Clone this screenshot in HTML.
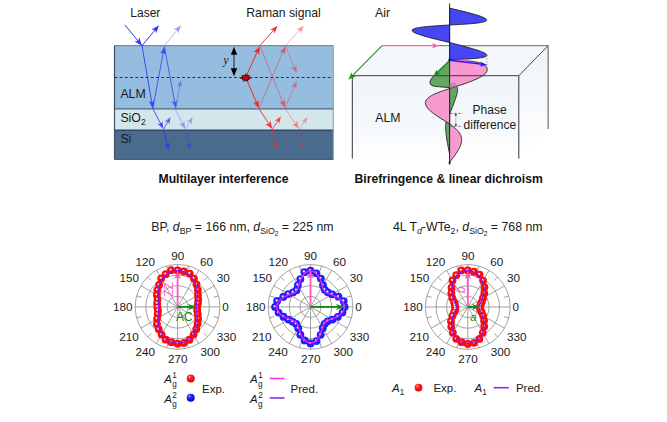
<!DOCTYPE html><html><head><meta charset="utf-8"><style>html,body{margin:0;padding:0;background:#fff;width:667px;height:422px;overflow:hidden}svg{display:block;font-family:"Liberation Sans", sans-serif}</style></head><body>
<svg width="667" height="422" viewBox="0 0 667 422">
<rect width="667" height="422" fill="#fff"/>
<rect x="114.5" y="45.7" width="218.8" height="63.2" fill="#95bddf"/>
<rect x="114.5" y="108.9" width="218.8" height="21.299999999999983" fill="#d3e6eb"/>
<rect x="114.5" y="130.2" width="218.8" height="29.200000000000017" fill="#4b6b8e"/>
<line x1="114.5" y1="45.7" x2="333.3" y2="45.7" stroke="#7d8890" stroke-width="1.2"/>
<line x1="114.5" y1="108.9" x2="333.3" y2="108.9" stroke="#4a6680" stroke-width="1.4"/>
<line x1="114.5" y1="130.2" x2="333.3" y2="130.2" stroke="#2f4a66" stroke-width="1.5"/>
<line x1="114.5" y1="45.7" x2="114.5" y2="159.4" stroke="#3f5060" stroke-width="1.2"/>
<line x1="333.3" y1="45.7" x2="333.3" y2="159.4" stroke="#8a9aa8" stroke-width="1"/>
<line x1="114.5" y1="159.4" x2="333.3" y2="159.4" stroke="#3a5470" stroke-width="1"/>
<line x1="114.5" y1="77.5" x2="333.3" y2="77.5" stroke="#262626" stroke-width="0.95" stroke-dasharray="2.8,2.4"/>
<text x="130.3" y="16.8" font-size="12" font-weight="400" text-anchor="start" fill="#1a1a1a" font-style="normal" >Laser</text>
<text x="246.3" y="17.1" font-size="12.2" font-weight="400" text-anchor="start" fill="#1a1a1a" font-style="normal" >Raman signal</text>
<text x="120.4" y="97.6" font-size="12.3" font-weight="400" text-anchor="start" fill="#1a1a1a" font-style="normal" >ALM</text>
<text x="120.4" y="121.7" font-size="12.3" font-weight="400" text-anchor="start" fill="#1a1a1a" font-style="normal" >SiO<tspan font-size="8.5" dy="3">2</tspan></text>
<text x="120.4" y="143.2" font-size="12.3" font-weight="400" text-anchor="start" fill="#1a1a1a" font-style="normal" >Si</text>
<text x="158.5" y="183.0" font-size="12.2" font-weight="700" text-anchor="start" fill="#111" font-style="normal" >Multilayer interference</text>
<line x1="124.9" y1="24.9" x2="142" y2="45.7" stroke="#2b35f5" stroke-width="1"/><path d="M142.00,45.70 L134.60,41.43 L138.19,41.07 L139.24,37.62Z" fill="#2b35f5" fill-opacity="1.0"/>
<line x1="142.00" y1="45.70" x2="155.93" y2="28.99" stroke="#2b35f5" stroke-width="1" stroke-opacity="1.0"/><path d="M159.00,25.30 L156.18,33.37 L155.16,29.91 L151.57,29.53Z" fill="#2b35f5" fill-opacity="1.0"/>
<line x1="164.40" y1="45.70" x2="177.97" y2="29.02" stroke="#2b35f5" stroke-width="0.8" stroke-opacity="0.45"/><path d="M181.00,25.30 L178.28,33.40 L177.21,29.95 L173.62,29.61Z" fill="#2b35f5" fill-opacity="0.45"/>
<line x1="142.00" y1="45.70" x2="151.99" y2="103.67" stroke="#2b35f5" stroke-width="1" stroke-opacity="0.85"/><path d="M152.80,108.40 L148.68,100.99 L151.78,102.49 L154.20,100.04Z" fill="#2b35f5" fill-opacity="0.85"/>
<line x1="152.80" y1="108.40" x2="163.52" y2="51.22" stroke="#2b35f5" stroke-width="1" stroke-opacity="0.75"/><path d="M164.40,46.50 L165.68,54.88 L163.29,52.40 L160.17,53.85Z" fill="#2b35f5" fill-opacity="0.75"/>
<line x1="164.40" y1="46.50" x2="174.93" y2="103.68" stroke="#2b35f5" stroke-width="1" stroke-opacity="0.7"/><path d="M175.80,108.40 L171.60,101.04 L174.71,102.50 L177.10,100.03Z" fill="#2b35f5" fill-opacity="0.7"/>
<line x1="175.80" y1="108.40" x2="180.07" y2="84.14" stroke="#2b35f5" stroke-width="0.8" stroke-opacity="0.45"/><path d="M180.80,80.00 L182.05,87.33 L179.89,85.17 L177.12,86.46Z" fill="#2b35f5" fill-opacity="0.45"/>
<line x1="152.80" y1="108.60" x2="161.30" y2="125.04" stroke="#2b35f5" stroke-width="1" stroke-opacity="0.8"/><path d="M163.50,129.30 L157.34,123.48 L160.74,123.97 L162.31,120.91Z" fill="#2b35f5" fill-opacity="0.8"/>
<line x1="163.50" y1="129.30" x2="168.50" y2="120.64" stroke="#2b35f5" stroke-width="1" stroke-opacity="0.7"/><path d="M170.60,117.00 L169.53,124.46 L167.98,121.55 L164.68,121.66Z" fill="#2b35f5" fill-opacity="0.7"/>
<line x1="163.50" y1="129.80" x2="167.85" y2="145.87" stroke="#2b35f5" stroke-width="1" stroke-opacity="0.8"/><path d="M169.10,150.50 L164.31,143.51 L167.53,144.71 L169.71,142.05Z" fill="#2b35f5" fill-opacity="0.8"/>
<line x1="174.80" y1="108.60" x2="183.30" y2="125.04" stroke="#2b35f5" stroke-width="0.8" stroke-opacity="0.4"/><path d="M185.50,129.30 L179.34,123.48 L182.74,123.97 L184.31,120.91Z" fill="#2b35f5" fill-opacity="0.4"/>
<line x1="185.50" y1="129.30" x2="190.50" y2="120.64" stroke="#2b35f5" stroke-width="0.8" stroke-opacity="0.35"/><path d="M192.60,117.00 L191.53,124.46 L189.98,121.55 L186.68,121.66Z" fill="#2b35f5" fill-opacity="0.35"/>
<line x1="185.50" y1="129.80" x2="189.37" y2="145.83" stroke="#2b35f5" stroke-width="0.8" stroke-opacity="0.45"/><path d="M190.50,150.50 L185.90,143.38 L189.09,144.67 L191.34,142.07Z" fill="#2b35f5" fill-opacity="0.45"/>
<line x1="245.70" y1="77.30" x2="257.82" y2="50.57" stroke="#f0282a" stroke-width="1" stroke-opacity="1.0"/><path d="M259.80,46.20 L259.23,54.72 L257.32,51.66 L253.76,52.25Z" fill="#f0282a" fill-opacity="1.0"/>
<line x1="259.80" y1="45.70" x2="274.41" y2="29.29" stroke="#f0282a" stroke-width="1" stroke-opacity="0.9"/><path d="M277.60,25.70 L274.52,33.67 L273.61,30.18 L270.04,29.68Z" fill="#f0282a" fill-opacity="0.9"/>
<line x1="285.40" y1="45.70" x2="300.64" y2="29.22" stroke="#f0282a" stroke-width="0.8" stroke-opacity="0.45"/><path d="M303.90,25.70 L300.67,33.61 L299.83,30.10 L296.27,29.54Z" fill="#f0282a" fill-opacity="0.45"/>
<line x1="245.70" y1="77.30" x2="257.02" y2="103.88" stroke="#f0282a" stroke-width="1" stroke-opacity="1.0"/><path d="M258.90,108.30 L253.01,102.11 L256.55,102.78 L258.53,99.76Z" fill="#f0282a" fill-opacity="1.0"/>
<line x1="258.90" y1="108.30" x2="283.52" y2="50.61" stroke="#f0282a" stroke-width="0.8" stroke-opacity="0.6"/><path d="M285.40,46.20 L285.02,54.74 L283.05,51.72 L279.50,52.38Z" fill="#f0282a" fill-opacity="0.6"/>
<line x1="259.80" y1="45.70" x2="283.29" y2="103.35" stroke="#f0282a" stroke-width="0.8" stroke-opacity="0.6"/><path d="M285.10,107.80 L279.30,101.52 L282.84,102.24 L284.86,99.26Z" fill="#f0282a" fill-opacity="0.6"/>
<line x1="285.40" y1="45.70" x2="294.97" y2="68.86" stroke="#f0282a" stroke-width="0.8" stroke-opacity="0.45"/><path d="M296.80,73.30 L290.97,67.05 L294.51,67.75 L296.52,64.76Z" fill="#f0282a" fill-opacity="0.45"/>
<line x1="285.10" y1="107.80" x2="294.98" y2="85.10" stroke="#f0282a" stroke-width="0.8" stroke-opacity="0.45"/><path d="M296.90,80.70 L296.46,89.23 L294.50,86.20 L290.96,86.84Z" fill="#f0282a" fill-opacity="0.45"/>
<line x1="258.90" y1="108.60" x2="269.66" y2="124.89" stroke="#f0282a" stroke-width="1" stroke-opacity="0.9"/><path d="M272.30,128.90 L265.39,123.88 L268.99,123.89 L270.40,120.57Z" fill="#f0282a" fill-opacity="0.9"/>
<line x1="272.30" y1="129.20" x2="278.55" y2="119.98" stroke="#f0282a" stroke-width="1" stroke-opacity="0.8"/><path d="M280.90,116.50 L279.29,123.87 L277.96,120.85 L274.66,120.73Z" fill="#f0282a" fill-opacity="0.8"/>
<line x1="272.30" y1="129.80" x2="276.02" y2="144.55" stroke="#f0282a" stroke-width="1" stroke-opacity="0.7"/><path d="M277.20,149.20 L272.53,142.13 L275.73,143.38 L277.96,140.76Z" fill="#f0282a" fill-opacity="0.7"/>
<line x1="285.10" y1="108.60" x2="296.29" y2="124.94" stroke="#f0282a" stroke-width="0.8" stroke-opacity="0.45"/><path d="M299.00,128.90 L292.00,123.99 L295.61,123.95 L296.96,120.60Z" fill="#f0282a" fill-opacity="0.45"/>
<line x1="299.00" y1="129.20" x2="305.10" y2="120.45" stroke="#f0282a" stroke-width="0.8" stroke-opacity="0.35"/><path d="M307.50,117.00 L305.80,124.34 L304.50,121.31 L301.20,121.14Z" fill="#f0282a" fill-opacity="0.35"/>
<line x1="299.00" y1="129.80" x2="302.27" y2="144.71" stroke="#f0282a" stroke-width="0.8" stroke-opacity="0.35"/><path d="M303.30,149.40 L298.85,142.19 L302.01,143.54 L304.32,140.99Z" fill="#f0282a" fill-opacity="0.35"/>
<g transform="translate(245.7,77.8)">
<polygon points="6.08,0.96 3.19,1.12 3.90,2.31 2.25,2.09 2.83,4.30 0.86,2.65 0.12,3.82 -0.70,2.68 -2.55,4.41 -2.11,2.18 -3.76,2.46 -3.12,1.24 -6.01,1.19 -3.50,0.07 -4.80,-0.76 -3.19,-1.12 -4.94,-2.92 -2.25,-2.09 -2.23,-3.40 -0.86,-2.65 -0.15,-4.83 0.70,-2.68 2.02,-3.48 2.11,-2.18 4.75,-3.11 3.12,-1.24 4.75,-0.94 3.50,-0.07" fill="#1a1a1a"/>
<ellipse cx="0" cy="0" rx="3.5" ry="2.6" fill="#d0000a" stroke="#5a0000" stroke-width="0.5"/></g>
<line x1="234" y1="52" x2="234" y2="70" stroke="#556677" stroke-width="1.8"/>
<path d="M234.00,46.70 L237.20,54.70 L234.00,54.70 L230.80,54.70Z" fill="#000" fill-opacity="1.0"/>
<path d="M234.00,76.20 L230.80,68.20 L234.00,68.20 L237.20,68.20Z" fill="#000" fill-opacity="1.0"/>
<text x="223.3" y="64.2" font-family="Liberation Serif" font-style="italic" font-size="12" fill="#222">y</text>
<defs><linearGradient id="gfront" x1="0" y1="0" x2="0" y2="1"><stop offset="0" stop-color="#f0f5fa"/><stop offset="0.6" stop-color="#f5f8fb"/><stop offset="1" stop-color="#ffffff"/></linearGradient><linearGradient id="gside" x1="0" y1="0" x2="0" y2="1"><stop offset="0" stop-color="#eef3f9"/><stop offset="1" stop-color="#ffffff"/></linearGradient></defs>
<polygon points="382.0,45.7 548.1,45.7 518.8,75.7 352.3,75.7" fill="#f4f8fc"/>
<rect x="352.3" y="75.7" width="166.49999999999994" height="82.8" fill="url(#gfront)"/>
<polygon points="518.8,75.7 548.1,45.7 548.1,129.0 518.8,158.5" fill="url(#gside)"/>
<line x1="438" y1="45.7" x2="548.1" y2="45.7" stroke="#6a6a6a" stroke-width="1"/>
<line x1="518.8" y1="75.7" x2="548.1" y2="45.7" stroke="#444" stroke-width="1"/>
<line x1="352.3" y1="75.7" x2="352.3" y2="158.5" stroke="#333" stroke-width="1"/>
<line x1="518.8" y1="75.7" x2="518.8" y2="158.5" stroke="#333" stroke-width="1"/>
<line x1="548.1" y1="45.7" x2="548.1" y2="129.0" stroke="#555" stroke-width="1"/>
<line x1="382.00" y1="45.70" x2="434.80" y2="45.70" stroke="#ff5ab4" stroke-width="1.2" stroke-opacity="1.0"/><path d="M439.00,45.70 L432.00,48.45 L433.75,45.70 L432.00,42.95Z" fill="#ff5ab4" fill-opacity="1.0"/>
<line x1="382.00" y1="45.70" x2="351.46" y2="76.60" stroke="#1a9a1a" stroke-width="1.1" stroke-opacity="1.0"/><path d="M348.30,79.80 L351.44,72.36 L352.25,75.80 L355.71,76.57Z" fill="#1a9a1a" fill-opacity="1.0"/>
<line x1="449.6" y1="3.5" x2="449.6" y2="164" stroke="#222" stroke-width="1.0"/>
<path d="M449.6,60.5 L435,74.8 C428.5,80.8 427.8,85.6 435.5,86.4 C441,86.9 446,87.3 449.6,87.5 L449.60,87.50 L450.12,87.32 L450.64,87.14 L451.16,86.96 L451.67,86.80 L452.17,86.64 L452.66,86.51 L453.14,86.39 L453.60,86.29 L454.04,86.22 L454.47,86.17 L454.87,86.16 L455.26,86.17 L455.61,86.22 L455.95,86.30 L456.25,86.43 L456.53,86.59 L456.77,86.80 L456.99,87.04 L457.18,87.34 L457.33,87.68 L457.45,88.06 L457.53,88.49 L457.58,88.97 L457.60,89.50 L457.58,90.08 L457.53,90.70 L457.45,91.37 L457.33,92.09 L457.18,92.86 L456.99,93.67 L456.77,94.52 L456.53,95.42 L456.25,96.36 L455.95,97.35 L455.61,98.36 L455.26,99.42 L454.87,100.51 L454.47,101.63 L454.04,102.78 L453.60,103.96 L453.14,105.16 L452.66,106.38 L452.17,107.62 L451.67,108.88 L451.16,110.15 L450.64,111.43 L450.12,112.71 L449.60,114.00 L449.60,114.00 L449.34,114.38 L449.08,114.75 L448.82,115.13 L448.56,115.52 L448.31,115.92 L448.07,116.32 L447.83,116.74 L447.60,117.17 L447.38,117.61 L447.16,118.07 L446.96,118.55 L446.77,119.05 L446.59,119.57 L446.43,120.11 L446.27,120.68 L446.14,121.27 L446.01,121.89 L445.90,122.53 L445.81,123.20 L445.74,123.91 L445.68,124.63 L445.63,125.39 L445.61,126.18 L445.60,127.00 L445.61,127.85 L445.63,128.73 L445.68,129.63 L445.74,130.57 L445.81,131.54 L445.90,132.53 L446.01,133.56 L446.14,134.60 L446.27,135.68 L446.43,136.78 L446.59,137.90 L446.77,139.05 L446.96,140.22 L447.16,141.41 L447.38,142.61 L447.60,143.83 L447.83,145.07 L448.07,146.32 L448.31,147.58 L448.56,148.85 L448.82,150.13 L449.08,151.42 L449.34,152.71 L449.60,154.00 Z" fill="#62a862" fill-opacity="1.0" stroke="#1d1d1d" stroke-width="0.9" stroke-linejoin="round"/>
<path d="M449.60,60.50 L452.06,60.50 L454.51,60.51 L456.94,60.54 L459.33,60.59 L461.69,60.66 L463.99,60.75 L466.23,60.87 L468.40,61.03 L470.49,61.22 L472.49,61.44 L474.39,61.71 L476.19,62.02 L477.87,62.37 L479.43,62.77 L480.86,63.21 L482.16,63.71 L483.32,64.25 L484.34,64.85 L485.20,65.51 L485.92,66.23 L486.48,67.00 L486.88,67.84 L487.12,68.74 L487.20,69.70 L487.12,70.49 L486.88,71.28 L486.48,72.06 L485.92,72.85 L485.20,73.64 L484.34,74.42 L483.32,75.21 L482.16,76.00 L480.86,76.79 L479.43,77.58 L477.87,78.36 L476.19,79.15 L474.39,79.94 L472.49,80.72 L470.49,81.51 L468.40,82.30 L466.23,83.09 L463.99,83.88 L461.69,84.66 L459.33,85.45 L456.94,86.24 L454.51,87.02 L452.06,87.81 L449.60,88.60 L449.60,88.60 L448.02,89.12 L446.44,89.64 L444.88,90.16 L443.34,90.68 L441.82,91.21 L440.34,91.74 L438.90,92.27 L437.50,92.82 L436.16,93.37 L434.87,93.92 L433.64,94.49 L432.49,95.07 L431.41,95.65 L430.40,96.25 L429.48,96.86 L428.64,97.48 L427.90,98.11 L427.24,98.75 L426.68,99.41 L426.22,100.08 L425.86,100.76 L425.61,101.46 L425.45,102.17 L425.40,102.90 L425.45,103.64 L425.61,104.39 L425.86,105.16 L426.22,105.95 L426.68,106.74 L427.24,107.55 L427.90,108.37 L428.64,109.21 L429.48,110.06 L430.40,110.92 L431.41,111.79 L432.49,112.67 L433.64,113.56 L434.87,114.46 L436.16,115.37 L437.50,116.28 L438.90,117.21 L440.34,118.14 L441.82,119.07 L443.34,120.01 L444.88,120.96 L446.44,121.90 L448.02,122.85 L449.60,123.80 L449.60,123.80 L450.38,124.39 L451.17,124.98 L451.94,125.57 L452.71,126.17 L453.46,126.77 L454.19,127.37 L454.91,127.98 L455.60,128.59 L456.27,129.21 L456.91,129.84 L457.51,130.48 L458.09,131.13 L458.62,131.78 L459.12,132.45 L459.58,133.13 L459.99,133.82 L460.36,134.52 L460.69,135.23 L460.96,135.96 L461.19,136.70 L461.37,137.46 L461.50,138.22 L461.57,139.00 L461.60,139.80 L461.57,140.61 L461.50,141.43 L461.37,142.27 L461.19,143.12 L460.96,143.98 L460.69,144.86 L460.36,145.75 L459.99,146.65 L459.58,147.57 L459.12,148.49 L458.62,149.43 L458.09,150.38 L457.51,151.33 L456.91,152.30 L456.27,153.28 L455.60,154.26 L454.91,155.25 L454.19,156.24 L453.46,157.24 L452.71,158.25 L451.94,159.26 L451.17,160.27 L450.38,161.29 L449.60,162.30 Z" fill="#f79ad0" fill-opacity="1.0" stroke="#1d1d1d" stroke-width="0.9" stroke-linejoin="round"/>
<ellipse cx="452.8" cy="85.8" rx="4.2" ry="3.2" fill="#a06a90" fill-opacity="0.45"/>
<path d="M449.60,8.10 L452.03,8.68 L454.44,9.25 L456.84,9.83 L459.20,10.40 L461.53,10.97 L463.80,11.53 L466.01,12.09 L468.15,12.64 L470.21,13.19 L472.19,13.72 L474.06,14.25 L475.83,14.76 L477.49,15.27 L479.03,15.77 L480.45,16.25 L481.73,16.72 L482.87,17.18 L483.88,17.62 L484.73,18.06 L485.44,18.47 L485.99,18.88 L486.38,19.27 L486.62,19.64 L486.70,20.00 L486.62,20.34 L486.38,20.67 L485.99,20.99 L485.44,21.29 L484.73,21.58 L483.88,21.85 L482.87,22.11 L481.73,22.35 L480.45,22.59 L479.03,22.81 L477.49,23.02 L475.83,23.21 L474.06,23.40 L472.19,23.58 L470.21,23.75 L468.15,23.91 L466.01,24.06 L463.80,24.21 L461.53,24.35 L459.20,24.48 L456.84,24.62 L454.44,24.75 L452.03,24.87 L449.60,25.00 L449.60,25.00 L447.15,25.15 L444.71,25.29 L442.28,25.44 L439.89,25.59 L437.55,25.75 L435.25,25.91 L433.01,26.07 L430.85,26.24 L428.77,26.42 L426.77,26.61 L424.87,26.80 L423.08,27.01 L421.41,27.22 L419.85,27.45 L418.42,27.68 L417.12,27.93 L415.97,28.19 L414.95,28.47 L414.09,28.75 L413.38,29.06 L412.82,29.37 L412.42,29.70 L412.18,30.04 L412.10,30.40 L412.18,30.77 L412.42,31.16 L412.82,31.56 L413.38,31.97 L414.09,32.40 L414.95,32.84 L415.97,33.30 L417.12,33.77 L418.42,34.25 L419.85,34.74 L421.41,35.24 L423.08,35.76 L424.87,36.28 L426.77,36.81 L428.77,37.36 L430.85,37.91 L433.01,38.47 L435.25,39.03 L437.55,39.60 L439.89,40.17 L442.28,40.75 L444.71,41.33 L447.15,41.92 L449.60,42.50 L449.60,42.50 L452.04,43.13 L454.47,43.77 L456.88,44.40 L459.25,45.02 L461.59,45.65 L463.87,46.26 L466.10,46.87 L468.25,47.47 L470.32,48.07 L472.31,48.65 L474.19,49.22 L475.98,49.78 L477.64,50.33 L479.19,50.86 L480.61,51.38 L481.90,51.88 L483.05,52.37 L484.06,52.84 L484.92,53.29 L485.63,53.73 L486.18,54.15 L486.58,54.55 L486.82,54.93 L486.90,55.30 L486.82,55.65 L486.58,55.98 L486.18,56.29 L485.63,56.58 L484.92,56.86 L484.06,57.11 L483.05,57.36 L481.90,57.58 L480.61,57.79 L479.19,57.98 L477.64,58.16 L475.98,58.33 L474.19,58.48 L472.31,58.62 L470.32,58.75 L468.25,58.88 L466.10,58.99 L463.87,59.09 L461.59,59.18 L459.25,59.27 L456.88,59.36 L454.47,59.44 L452.04,59.52 L449.60,59.60 Z" fill="#4646f4" fill-opacity="1.0" stroke="#1d1d1d" stroke-width="0.9" stroke-linejoin="round"/>
<line x1="352.3" y1="75.7" x2="518.8" y2="75.7" stroke="#3a3a3a" stroke-width="1"/>
<path d="M449.60,165.50 L448.30,162.00 L449.60,162.00 L450.90,162.00Z" fill="#222" fill-opacity="1.0"/>
<line x1="449.60" y1="60.30" x2="466.40" y2="60.71" stroke="#ff5ab4" stroke-width="1.2" stroke-opacity="1.0"/><path d="M470.00,60.80 L463.95,62.90 L465.50,60.69 L464.06,58.40Z" fill="#ff5ab4" fill-opacity="1.0"/>
<line x1="449.60" y1="60.30" x2="482.83" y2="64.39" stroke="#1a1aff" stroke-width="1.4" stroke-opacity="1.0"/><path d="M487.00,64.90 L479.75,66.53 L481.79,64.26 L480.36,61.56Z" fill="#1a1aff" fill-opacity="1.0"/>
<line x1="449.60" y1="60.50" x2="436.50" y2="73.36" stroke="#1a8a1a" stroke-width="1.4" stroke-opacity="1.0"/><path d="M433.50,76.30 L436.57,69.43 L437.25,72.62 L440.42,73.36Z" fill="#1a8a1a" fill-opacity="1.0"/>
<line x1="486.9" y1="55" x2="486.9" y2="66" stroke="#888" stroke-width="0.8" stroke-dasharray="1.6,1.4"/>
<circle cx="449.6" cy="59.8" r="1.2" fill="#111"/>
<g stroke="#555" stroke-width="0.9" stroke-dasharray="2.2,1.8" fill="none"><line x1="450.3" y1="113.4" x2="462.6" y2="113.4"/><line x1="450.3" y1="126.3" x2="462.6" y2="126.3"/></g>
<line x1="455.8" y1="114.5" x2="455.8" y2="125.2" stroke="#c8c8c8" stroke-width="1.3"/>
<g stroke="#444" stroke-width="1"><line x1="454.6" y1="114.8" x2="457" y2="114.8"/><line x1="455.8" y1="114.3" x2="455.8" y2="116"/><line x1="454.6" y1="125" x2="457" y2="125"/><line x1="455.8" y1="123.6" x2="455.8" y2="125.3"/></g>
<text x="375.1" y="17.1" font-size="12.4" font-weight="400" text-anchor="start" fill="#1a1a1a" font-style="normal" >Air</text>
<text x="375.2" y="121.5" font-size="12.3" font-weight="400" text-anchor="start" fill="#1a1a1a" font-style="normal" >ALM</text>
<text x="472.6" y="113.7" font-size="12.0" font-weight="400" text-anchor="start" fill="#1a1a1a" font-style="normal" >Phase</text>
<text x="463.6" y="128.8" font-size="12.0" font-weight="400" text-anchor="start" fill="#1a1a1a" font-style="normal" >difference</text>
<text x="354.5" y="183.0" font-size="12.2" font-weight="700" text-anchor="start" fill="#111" font-style="normal" >Birefringence &amp; linear dichroism</text>
<defs><radialGradient id="ballR" cx="0.35" cy="0.3" r="0.7"><stop offset="0" stop-color="#ffe8e8"/><stop offset="0.22" stop-color="#ff3030"/><stop offset="1" stop-color="#e00000"/></radialGradient><radialGradient id="ballB" cx="0.35" cy="0.3" r="0.7"><stop offset="0" stop-color="#e4e4ff"/><stop offset="0.22" stop-color="#3030ff"/><stop offset="1" stop-color="#0000d8"/></radialGradient></defs>
<g stroke="#8c8c8c" stroke-width="0.8" fill="none">
<circle cx="177.6" cy="306.9" r="10.60"/>
<circle cx="177.6" cy="306.9" r="21.20"/>
<circle cx="177.6" cy="306.9" r="31.80"/>
<circle cx="177.6" cy="306.9" r="42.40"/>
<line x1="177.6" y1="306.9" x2="220.00" y2="306.90"/>
<line x1="177.6" y1="306.9" x2="214.32" y2="285.70"/>
<line x1="177.6" y1="306.9" x2="198.80" y2="270.18"/>
<line x1="177.6" y1="306.9" x2="177.60" y2="264.50"/>
<line x1="177.6" y1="306.9" x2="156.40" y2="270.18"/>
<line x1="177.6" y1="306.9" x2="140.88" y2="285.70"/>
<line x1="177.6" y1="306.9" x2="135.20" y2="306.90"/>
<line x1="177.6" y1="306.9" x2="140.88" y2="328.10"/>
<line x1="177.6" y1="306.9" x2="156.40" y2="343.62"/>
<line x1="177.6" y1="306.9" x2="177.60" y2="349.30"/>
<line x1="177.6" y1="306.9" x2="198.80" y2="343.62"/>
<line x1="177.6" y1="306.9" x2="214.32" y2="328.10"/>
<line x1="213.64" y1="297.24" x2="218.56" y2="295.93"/>
<line x1="203.98" y1="280.52" x2="207.58" y2="276.92"/>
<line x1="187.26" y1="270.86" x2="188.57" y2="265.94"/>
<line x1="167.94" y1="270.86" x2="166.63" y2="265.94"/>
<line x1="151.22" y1="280.52" x2="147.62" y2="276.92"/>
<line x1="141.56" y1="297.24" x2="136.64" y2="295.93"/>
<line x1="141.56" y1="316.56" x2="136.64" y2="317.87"/>
<line x1="151.22" y1="333.28" x2="147.62" y2="336.88"/>
<line x1="167.94" y1="342.94" x2="166.63" y2="347.86"/>
<line x1="187.26" y1="342.94" x2="188.57" y2="347.86"/>
<line x1="203.98" y1="333.28" x2="207.58" y2="336.88"/>
<line x1="213.64" y1="316.56" x2="218.56" y2="317.87"/>
</g>
<text x="225.50" y="311.20" font-size="11.7" font-weight="400" text-anchor="middle" fill="#1a1a1a" font-style="normal" >0</text>
<text x="223.30" y="281.70" font-size="11.7" font-weight="400" text-anchor="middle" fill="#1a1a1a" font-style="normal" >30</text>
<text x="206.60" y="265.90" font-size="11.7" font-weight="400" text-anchor="middle" fill="#1a1a1a" font-style="normal" >60</text>
<text x="177.70" y="260.00" font-size="11.7" font-weight="400" text-anchor="middle" fill="#1a1a1a" font-style="normal" >90</text>
<text x="145.35" y="265.90" font-size="11.7" font-weight="400" text-anchor="middle" fill="#1a1a1a" font-style="normal" >120</text>
<text x="129.35" y="281.70" font-size="11.7" font-weight="400" text-anchor="middle" fill="#1a1a1a" font-style="normal" >150</text>
<text x="122.85" y="311.20" font-size="11.7" font-weight="400" text-anchor="middle" fill="#1a1a1a" font-style="normal" >180</text>
<text x="128.95" y="340.60" font-size="11.7" font-weight="400" text-anchor="middle" fill="#1a1a1a" font-style="normal" >210</text>
<text x="145.20" y="356.20" font-size="11.7" font-weight="400" text-anchor="middle" fill="#1a1a1a" font-style="normal" >240</text>
<text x="177.75" y="362.60" font-size="11.7" font-weight="400" text-anchor="middle" fill="#1a1a1a" font-style="normal" >270</text>
<text x="210.25" y="356.20" font-size="11.7" font-weight="400" text-anchor="middle" fill="#1a1a1a" font-style="normal" >300</text>
<text x="226.55" y="340.60" font-size="11.7" font-weight="400" text-anchor="middle" fill="#1a1a1a" font-style="normal" >330</text>
<circle cx="197.15" cy="306.90" r="3.9" fill="#ff0a0a"/>
<circle cx="197.96" cy="303.31" r="3.9" fill="#ff0a0a"/>
<circle cx="198.20" cy="299.40" r="3.9" fill="#ff0a0a"/>
<circle cx="197.90" cy="295.18" r="3.9" fill="#ff0a0a"/>
<circle cx="197.82" cy="289.93" r="3.9" fill="#ff0a0a"/>
<circle cx="196.47" cy="284.41" r="3.9" fill="#ff0a0a"/>
<circle cx="193.93" cy="278.62" r="3.9" fill="#ff0a0a"/>
<circle cx="189.73" cy="273.57" r="3.9" fill="#ff0a0a"/>
<circle cx="183.85" cy="271.48" r="3.9" fill="#ff0a0a"/>
<circle cx="177.60" cy="270.46" r="3.9" fill="#ff0a0a"/>
<circle cx="171.12" cy="270.17" r="3.9" fill="#ff0a0a"/>
<circle cx="165.68" cy="274.14" r="3.9" fill="#ff0a0a"/>
<circle cx="161.18" cy="278.46" r="3.9" fill="#ff0a0a"/>
<circle cx="159.14" cy="284.90" r="3.9" fill="#ff0a0a"/>
<circle cx="157.42" cy="289.97" r="3.9" fill="#ff0a0a"/>
<circle cx="156.84" cy="294.91" r="3.9" fill="#ff0a0a"/>
<circle cx="157.52" cy="299.59" r="3.9" fill="#ff0a0a"/>
<circle cx="157.14" cy="303.29" r="3.9" fill="#ff0a0a"/>
<circle cx="157.32" cy="306.90" r="3.9" fill="#ff0a0a"/>
<circle cx="158.01" cy="310.35" r="3.9" fill="#ff0a0a"/>
<circle cx="157.72" cy="314.14" r="3.9" fill="#ff0a0a"/>
<circle cx="157.02" cy="318.78" r="3.9" fill="#ff0a0a"/>
<circle cx="156.94" cy="324.23" r="3.9" fill="#ff0a0a"/>
<circle cx="158.79" cy="329.31" r="3.9" fill="#ff0a0a"/>
<circle cx="161.61" cy="334.59" r="3.9" fill="#ff0a0a"/>
<circle cx="165.68" cy="339.64" r="3.9" fill="#ff0a0a"/>
<circle cx="171.37" cy="342.21" r="3.9" fill="#ff0a0a"/>
<circle cx="177.60" cy="343.69" r="3.9" fill="#ff0a0a"/>
<circle cx="183.95" cy="342.93" r="3.9" fill="#ff0a0a"/>
<circle cx="189.56" cy="339.76" r="3.9" fill="#ff0a0a"/>
<circle cx="193.60" cy="334.62" r="3.9" fill="#ff0a0a"/>
<circle cx="196.27" cy="329.15" r="3.9" fill="#ff0a0a"/>
<circle cx="197.56" cy="323.64" r="3.9" fill="#ff0a0a"/>
<circle cx="198.10" cy="318.74" r="3.9" fill="#ff0a0a"/>
<circle cx="197.74" cy="314.23" r="3.9" fill="#ff0a0a"/>
<circle cx="197.18" cy="310.35" r="3.9" fill="#ff0a0a"/>
<circle cx="196.65" cy="306.30" r="1.15" fill="#ffffff" fill-opacity="0.9"/>
<circle cx="197.46" cy="302.71" r="1.15" fill="#ffffff" fill-opacity="0.9"/>
<circle cx="197.70" cy="298.80" r="1.15" fill="#ffffff" fill-opacity="0.9"/>
<circle cx="197.40" cy="294.58" r="1.15" fill="#ffffff" fill-opacity="0.9"/>
<circle cx="197.32" cy="289.33" r="1.15" fill="#ffffff" fill-opacity="0.9"/>
<circle cx="195.97" cy="283.81" r="1.15" fill="#ffffff" fill-opacity="0.9"/>
<circle cx="193.43" cy="278.02" r="1.15" fill="#ffffff" fill-opacity="0.9"/>
<circle cx="189.23" cy="272.97" r="1.15" fill="#ffffff" fill-opacity="0.9"/>
<circle cx="183.35" cy="270.88" r="1.15" fill="#ffffff" fill-opacity="0.9"/>
<circle cx="177.10" cy="269.86" r="1.15" fill="#ffffff" fill-opacity="0.9"/>
<circle cx="170.62" cy="269.57" r="1.15" fill="#ffffff" fill-opacity="0.9"/>
<circle cx="165.18" cy="273.54" r="1.15" fill="#ffffff" fill-opacity="0.9"/>
<circle cx="160.68" cy="277.86" r="1.15" fill="#ffffff" fill-opacity="0.9"/>
<circle cx="158.64" cy="284.30" r="1.15" fill="#ffffff" fill-opacity="0.9"/>
<circle cx="156.92" cy="289.37" r="1.15" fill="#ffffff" fill-opacity="0.9"/>
<circle cx="156.34" cy="294.31" r="1.15" fill="#ffffff" fill-opacity="0.9"/>
<circle cx="157.02" cy="298.99" r="1.15" fill="#ffffff" fill-opacity="0.9"/>
<circle cx="156.64" cy="302.69" r="1.15" fill="#ffffff" fill-opacity="0.9"/>
<circle cx="156.82" cy="306.30" r="1.15" fill="#ffffff" fill-opacity="0.9"/>
<circle cx="157.51" cy="309.75" r="1.15" fill="#ffffff" fill-opacity="0.9"/>
<circle cx="157.22" cy="313.54" r="1.15" fill="#ffffff" fill-opacity="0.9"/>
<circle cx="156.52" cy="318.18" r="1.15" fill="#ffffff" fill-opacity="0.9"/>
<circle cx="156.44" cy="323.63" r="1.15" fill="#ffffff" fill-opacity="0.9"/>
<circle cx="158.29" cy="328.71" r="1.15" fill="#ffffff" fill-opacity="0.9"/>
<circle cx="161.11" cy="333.99" r="1.15" fill="#ffffff" fill-opacity="0.9"/>
<circle cx="165.18" cy="339.04" r="1.15" fill="#ffffff" fill-opacity="0.9"/>
<circle cx="170.87" cy="341.61" r="1.15" fill="#ffffff" fill-opacity="0.9"/>
<circle cx="177.10" cy="343.09" r="1.15" fill="#ffffff" fill-opacity="0.9"/>
<circle cx="183.45" cy="342.33" r="1.15" fill="#ffffff" fill-opacity="0.9"/>
<circle cx="189.06" cy="339.16" r="1.15" fill="#ffffff" fill-opacity="0.9"/>
<circle cx="193.10" cy="334.02" r="1.15" fill="#ffffff" fill-opacity="0.9"/>
<circle cx="195.77" cy="328.55" r="1.15" fill="#ffffff" fill-opacity="0.9"/>
<circle cx="197.06" cy="323.04" r="1.15" fill="#ffffff" fill-opacity="0.9"/>
<circle cx="197.60" cy="318.14" r="1.15" fill="#ffffff" fill-opacity="0.9"/>
<circle cx="197.24" cy="313.63" r="1.15" fill="#ffffff" fill-opacity="0.9"/>
<circle cx="196.68" cy="309.75" r="1.15" fill="#ffffff" fill-opacity="0.9"/>
<path d="M196.50,306.90 L196.50,306.57 L196.51,306.24 L196.51,305.91 L196.52,305.58 L196.54,305.24 L196.56,304.91 L196.57,304.57 L196.60,304.23 L196.62,303.89 L196.65,303.54 L196.68,303.19 L196.71,302.84 L196.74,302.48 L196.78,302.12 L196.81,301.75 L196.85,301.38 L196.89,301.00 L196.92,300.62 L196.96,300.23 L197.00,299.84 L197.04,299.44 L197.07,299.03 L197.11,298.62 L197.14,298.20 L197.17,297.77 L197.20,297.34 L197.23,296.90 L197.25,296.45 L197.26,296.00 L197.28,295.54 L197.29,295.07 L197.29,294.60 L197.29,294.12 L197.28,293.63 L197.26,293.13 L197.24,292.63 L197.21,292.12 L197.17,291.61 L197.12,291.09 L197.06,290.57 L197.00,290.04 L196.92,289.51 L196.83,288.97 L196.73,288.43 L196.62,287.88 L196.50,287.33 L196.36,286.78 L196.21,286.23 L196.05,285.68 L195.87,285.12 L195.68,284.57 L195.48,284.01 L195.26,283.46 L195.03,282.91 L194.78,282.36 L194.52,281.82 L194.24,281.28 L193.95,280.74 L193.64,280.21 L193.31,279.69 L192.97,279.17 L192.61,278.66 L192.24,278.16 L191.86,277.67 L191.45,277.19 L191.04,276.72 L190.60,276.27 L190.16,275.82 L189.70,275.39 L189.22,274.97 L188.73,274.57 L188.23,274.19 L187.71,273.82 L187.19,273.47 L186.65,273.13 L186.10,272.82 L185.54,272.52 L184.97,272.24 L184.39,271.99 L183.80,271.75 L183.20,271.53 L182.60,271.34 L181.99,271.17 L181.37,271.02 L180.75,270.89 L180.13,270.79 L179.50,270.71 L178.87,270.65 L178.23,270.61 L177.60,270.60 L176.97,270.61 L176.33,270.65 L175.70,270.71 L175.07,270.79 L174.45,270.89 L173.83,271.02 L173.21,271.17 L172.60,271.34 L172.00,271.53 L171.40,271.75 L170.81,271.99 L170.23,272.24 L169.66,272.52 L169.10,272.82 L168.55,273.13 L168.01,273.47 L167.49,273.82 L166.97,274.19 L166.47,274.57 L165.98,274.97 L165.50,275.39 L165.04,275.82 L164.60,276.27 L164.16,276.72 L163.75,277.19 L163.34,277.67 L162.96,278.16 L162.59,278.66 L162.23,279.17 L161.89,279.69 L161.56,280.21 L161.25,280.74 L160.96,281.28 L160.68,281.82 L160.42,282.36 L160.17,282.91 L159.94,283.46 L159.72,284.01 L159.52,284.57 L159.33,285.12 L159.15,285.68 L158.99,286.23 L158.84,286.78 L158.70,287.33 L158.58,287.88 L158.47,288.43 L158.37,288.97 L158.28,289.51 L158.20,290.04 L158.14,290.57 L158.08,291.09 L158.03,291.61 L157.99,292.12 L157.96,292.63 L157.94,293.13 L157.92,293.63 L157.91,294.12 L157.91,294.60 L157.91,295.07 L157.92,295.54 L157.94,296.00 L157.95,296.45 L157.97,296.90 L158.00,297.34 L158.03,297.77 L158.06,298.20 L158.09,298.62 L158.13,299.03 L158.16,299.44 L158.20,299.84 L158.24,300.23 L158.28,300.62 L158.31,301.00 L158.35,301.38 L158.39,301.75 L158.42,302.12 L158.46,302.48 L158.49,302.84 L158.52,303.19 L158.55,303.54 L158.58,303.89 L158.60,304.23 L158.63,304.57 L158.64,304.91 L158.66,305.24 L158.68,305.58 L158.69,305.91 L158.69,306.24 L158.70,306.57 L158.70,306.90 L158.70,307.23 L158.69,307.56 L158.69,307.89 L158.68,308.22 L158.66,308.56 L158.64,308.89 L158.63,309.23 L158.60,309.57 L158.58,309.91 L158.55,310.26 L158.52,310.61 L158.49,310.96 L158.46,311.32 L158.42,311.68 L158.39,312.05 L158.35,312.42 L158.31,312.80 L158.28,313.18 L158.24,313.57 L158.20,313.96 L158.16,314.36 L158.13,314.77 L158.09,315.18 L158.06,315.60 L158.03,316.03 L158.00,316.46 L157.97,316.90 L157.95,317.35 L157.94,317.80 L157.92,318.26 L157.91,318.73 L157.91,319.20 L157.91,319.68 L157.92,320.17 L157.94,320.67 L157.96,321.17 L157.99,321.68 L158.03,322.19 L158.08,322.71 L158.14,323.23 L158.20,323.76 L158.28,324.29 L158.37,324.83 L158.47,325.37 L158.58,325.92 L158.70,326.47 L158.84,327.02 L158.99,327.57 L159.15,328.12 L159.33,328.68 L159.52,329.23 L159.72,329.79 L159.94,330.34 L160.17,330.89 L160.42,331.44 L160.68,331.98 L160.96,332.52 L161.25,333.06 L161.56,333.59 L161.89,334.11 L162.23,334.63 L162.59,335.14 L162.96,335.64 L163.34,336.13 L163.75,336.61 L164.16,337.08 L164.60,337.53 L165.04,337.98 L165.50,338.41 L165.98,338.83 L166.47,339.23 L166.97,339.61 L167.49,339.98 L168.01,340.33 L168.55,340.67 L169.10,340.98 L169.66,341.28 L170.23,341.56 L170.81,341.81 L171.40,342.05 L172.00,342.27 L172.60,342.46 L173.21,342.63 L173.83,342.78 L174.45,342.91 L175.07,343.01 L175.70,343.09 L176.33,343.15 L176.97,343.19 L177.60,343.20 L178.23,343.19 L178.87,343.15 L179.50,343.09 L180.13,343.01 L180.75,342.91 L181.37,342.78 L181.99,342.63 L182.60,342.46 L183.20,342.27 L183.80,342.05 L184.39,341.81 L184.97,341.56 L185.54,341.28 L186.10,340.98 L186.65,340.67 L187.19,340.33 L187.71,339.98 L188.23,339.61 L188.73,339.23 L189.22,338.83 L189.70,338.41 L190.16,337.98 L190.60,337.53 L191.04,337.08 L191.45,336.61 L191.86,336.13 L192.24,335.64 L192.61,335.14 L192.97,334.63 L193.31,334.11 L193.64,333.59 L193.95,333.06 L194.24,332.52 L194.52,331.98 L194.78,331.44 L195.03,330.89 L195.26,330.34 L195.48,329.79 L195.68,329.23 L195.87,328.68 L196.05,328.12 L196.21,327.57 L196.36,327.02 L196.50,326.47 L196.62,325.92 L196.73,325.37 L196.83,324.83 L196.92,324.29 L197.00,323.76 L197.06,323.23 L197.12,322.71 L197.17,322.19 L197.21,321.68 L197.24,321.17 L197.26,320.67 L197.28,320.17 L197.29,319.68 L197.29,319.20 L197.29,318.73 L197.28,318.26 L197.26,317.80 L197.25,317.35 L197.23,316.90 L197.20,316.46 L197.17,316.03 L197.14,315.60 L197.11,315.18 L197.07,314.77 L197.04,314.36 L197.00,313.96 L196.96,313.57 L196.92,313.18 L196.89,312.80 L196.85,312.42 L196.81,312.05 L196.78,311.68 L196.74,311.32 L196.71,310.96 L196.68,310.61 L196.65,310.26 L196.62,309.91 L196.60,309.57 L196.57,309.23 L196.56,308.89 L196.54,308.56 L196.52,308.22 L196.51,307.89 L196.51,307.56 L196.50,307.23Z" fill="none" stroke="#8614f0" stroke-width="1.35"/>
<g stroke="#8c8c8c" stroke-width="0.8" fill="none">
<circle cx="310.5" cy="306.9" r="10.60"/>
<circle cx="310.5" cy="306.9" r="21.20"/>
<circle cx="310.5" cy="306.9" r="31.80"/>
<circle cx="310.5" cy="306.9" r="42.40"/>
<line x1="310.5" y1="306.9" x2="352.90" y2="306.90"/>
<line x1="310.5" y1="306.9" x2="347.22" y2="285.70"/>
<line x1="310.5" y1="306.9" x2="331.70" y2="270.18"/>
<line x1="310.5" y1="306.9" x2="310.50" y2="264.50"/>
<line x1="310.5" y1="306.9" x2="289.30" y2="270.18"/>
<line x1="310.5" y1="306.9" x2="273.78" y2="285.70"/>
<line x1="310.5" y1="306.9" x2="268.10" y2="306.90"/>
<line x1="310.5" y1="306.9" x2="273.78" y2="328.10"/>
<line x1="310.5" y1="306.9" x2="289.30" y2="343.62"/>
<line x1="310.5" y1="306.9" x2="310.50" y2="349.30"/>
<line x1="310.5" y1="306.9" x2="331.70" y2="343.62"/>
<line x1="310.5" y1="306.9" x2="347.22" y2="328.10"/>
<line x1="346.54" y1="297.24" x2="351.46" y2="295.93"/>
<line x1="336.88" y1="280.52" x2="340.48" y2="276.92"/>
<line x1="320.16" y1="270.86" x2="321.47" y2="265.94"/>
<line x1="300.84" y1="270.86" x2="299.53" y2="265.94"/>
<line x1="284.12" y1="280.52" x2="280.52" y2="276.92"/>
<line x1="274.46" y1="297.24" x2="269.54" y2="295.93"/>
<line x1="274.46" y1="316.56" x2="269.54" y2="317.87"/>
<line x1="284.12" y1="333.28" x2="280.52" y2="336.88"/>
<line x1="300.84" y1="342.94" x2="299.53" y2="347.86"/>
<line x1="320.16" y1="342.94" x2="321.47" y2="347.86"/>
<line x1="336.88" y1="333.28" x2="340.48" y2="336.88"/>
<line x1="346.54" y1="316.56" x2="351.46" y2="317.87"/>
</g>
<text x="358.40" y="311.20" font-size="11.7" font-weight="400" text-anchor="middle" fill="#1a1a1a" font-style="normal" >0</text>
<text x="356.20" y="281.70" font-size="11.7" font-weight="400" text-anchor="middle" fill="#1a1a1a" font-style="normal" >30</text>
<text x="339.50" y="265.90" font-size="11.7" font-weight="400" text-anchor="middle" fill="#1a1a1a" font-style="normal" >60</text>
<text x="310.60" y="260.00" font-size="11.7" font-weight="400" text-anchor="middle" fill="#1a1a1a" font-style="normal" >90</text>
<text x="278.25" y="265.90" font-size="11.7" font-weight="400" text-anchor="middle" fill="#1a1a1a" font-style="normal" >120</text>
<text x="262.25" y="281.70" font-size="11.7" font-weight="400" text-anchor="middle" fill="#1a1a1a" font-style="normal" >150</text>
<text x="255.75" y="311.20" font-size="11.7" font-weight="400" text-anchor="middle" fill="#1a1a1a" font-style="normal" >180</text>
<text x="261.85" y="340.60" font-size="11.7" font-weight="400" text-anchor="middle" fill="#1a1a1a" font-style="normal" >210</text>
<text x="278.10" y="356.20" font-size="11.7" font-weight="400" text-anchor="middle" fill="#1a1a1a" font-style="normal" >240</text>
<text x="310.65" y="362.60" font-size="11.7" font-weight="400" text-anchor="middle" fill="#1a1a1a" font-style="normal" >270</text>
<text x="343.15" y="356.20" font-size="11.7" font-weight="400" text-anchor="middle" fill="#1a1a1a" font-style="normal" >300</text>
<text x="359.45" y="340.60" font-size="11.7" font-weight="400" text-anchor="middle" fill="#1a1a1a" font-style="normal" >330</text>
<circle cx="344.63" cy="306.90" r="3.9" fill="#1f1fff"/>
<circle cx="343.73" cy="301.04" r="3.9" fill="#1f1fff"/>
<circle cx="338.49" cy="296.71" r="3.9" fill="#1f1fff"/>
<circle cx="332.21" cy="294.36" r="3.9" fill="#1f1fff"/>
<circle cx="327.88" cy="292.32" r="3.9" fill="#1f1fff"/>
<circle cx="324.83" cy="289.83" r="3.9" fill="#1f1fff"/>
<circle cx="323.02" cy="285.22" r="3.9" fill="#1f1fff"/>
<circle cx="320.82" cy="278.56" r="3.9" fill="#1f1fff"/>
<circle cx="316.43" cy="273.28" r="3.9" fill="#1f1fff"/>
<circle cx="310.50" cy="270.74" r="3.9" fill="#1f1fff"/>
<circle cx="304.35" cy="272.05" r="3.9" fill="#1f1fff"/>
<circle cx="300.36" cy="279.04" r="3.9" fill="#1f1fff"/>
<circle cx="297.92" cy="285.11" r="3.9" fill="#1f1fff"/>
<circle cx="296.48" cy="290.19" r="3.9" fill="#1f1fff"/>
<circle cx="293.16" cy="292.35" r="3.9" fill="#1f1fff"/>
<circle cx="288.30" cy="294.08" r="3.9" fill="#1f1fff"/>
<circle cx="283.23" cy="296.97" r="3.9" fill="#1f1fff"/>
<circle cx="277.11" cy="301.01" r="3.9" fill="#1f1fff"/>
<circle cx="275.07" cy="306.90" r="3.9" fill="#1f1fff"/>
<circle cx="278.56" cy="312.53" r="3.9" fill="#1f1fff"/>
<circle cx="283.50" cy="316.73" r="3.9" fill="#1f1fff"/>
<circle cx="288.49" cy="319.61" r="3.9" fill="#1f1fff"/>
<circle cx="292.75" cy="321.79" r="3.9" fill="#1f1fff"/>
<circle cx="296.22" cy="323.92" r="3.9" fill="#1f1fff"/>
<circle cx="298.24" cy="328.13" r="3.9" fill="#1f1fff"/>
<circle cx="300.36" cy="334.75" r="3.9" fill="#1f1fff"/>
<circle cx="304.59" cy="340.41" r="3.9" fill="#1f1fff"/>
<circle cx="310.50" cy="343.41" r="3.9" fill="#1f1fff"/>
<circle cx="316.53" cy="341.09" r="3.9" fill="#1f1fff"/>
<circle cx="320.67" cy="334.85" r="3.9" fill="#1f1fff"/>
<circle cx="322.77" cy="328.15" r="3.9" fill="#1f1fff"/>
<circle cx="324.68" cy="323.79" r="3.9" fill="#1f1fff"/>
<circle cx="327.65" cy="321.29" r="3.9" fill="#1f1fff"/>
<circle cx="332.43" cy="319.56" r="3.9" fill="#1f1fff"/>
<circle cx="337.86" cy="316.86" r="3.9" fill="#1f1fff"/>
<circle cx="342.42" cy="312.53" r="3.9" fill="#1f1fff"/>
<circle cx="344.13" cy="306.30" r="1.15" fill="#ffffff" fill-opacity="0.9"/>
<circle cx="343.23" cy="300.44" r="1.15" fill="#ffffff" fill-opacity="0.9"/>
<circle cx="337.99" cy="296.11" r="1.15" fill="#ffffff" fill-opacity="0.9"/>
<circle cx="331.71" cy="293.76" r="1.15" fill="#ffffff" fill-opacity="0.9"/>
<circle cx="327.38" cy="291.72" r="1.15" fill="#ffffff" fill-opacity="0.9"/>
<circle cx="324.33" cy="289.23" r="1.15" fill="#ffffff" fill-opacity="0.9"/>
<circle cx="322.52" cy="284.62" r="1.15" fill="#ffffff" fill-opacity="0.9"/>
<circle cx="320.32" cy="277.96" r="1.15" fill="#ffffff" fill-opacity="0.9"/>
<circle cx="315.93" cy="272.68" r="1.15" fill="#ffffff" fill-opacity="0.9"/>
<circle cx="310.00" cy="270.14" r="1.15" fill="#ffffff" fill-opacity="0.9"/>
<circle cx="303.85" cy="271.45" r="1.15" fill="#ffffff" fill-opacity="0.9"/>
<circle cx="299.86" cy="278.44" r="1.15" fill="#ffffff" fill-opacity="0.9"/>
<circle cx="297.42" cy="284.51" r="1.15" fill="#ffffff" fill-opacity="0.9"/>
<circle cx="295.98" cy="289.59" r="1.15" fill="#ffffff" fill-opacity="0.9"/>
<circle cx="292.66" cy="291.75" r="1.15" fill="#ffffff" fill-opacity="0.9"/>
<circle cx="287.80" cy="293.48" r="1.15" fill="#ffffff" fill-opacity="0.9"/>
<circle cx="282.73" cy="296.37" r="1.15" fill="#ffffff" fill-opacity="0.9"/>
<circle cx="276.61" cy="300.41" r="1.15" fill="#ffffff" fill-opacity="0.9"/>
<circle cx="274.57" cy="306.30" r="1.15" fill="#ffffff" fill-opacity="0.9"/>
<circle cx="278.06" cy="311.93" r="1.15" fill="#ffffff" fill-opacity="0.9"/>
<circle cx="283.00" cy="316.13" r="1.15" fill="#ffffff" fill-opacity="0.9"/>
<circle cx="287.99" cy="319.01" r="1.15" fill="#ffffff" fill-opacity="0.9"/>
<circle cx="292.25" cy="321.19" r="1.15" fill="#ffffff" fill-opacity="0.9"/>
<circle cx="295.72" cy="323.32" r="1.15" fill="#ffffff" fill-opacity="0.9"/>
<circle cx="297.74" cy="327.53" r="1.15" fill="#ffffff" fill-opacity="0.9"/>
<circle cx="299.86" cy="334.15" r="1.15" fill="#ffffff" fill-opacity="0.9"/>
<circle cx="304.09" cy="339.81" r="1.15" fill="#ffffff" fill-opacity="0.9"/>
<circle cx="310.00" cy="342.81" r="1.15" fill="#ffffff" fill-opacity="0.9"/>
<circle cx="316.03" cy="340.49" r="1.15" fill="#ffffff" fill-opacity="0.9"/>
<circle cx="320.17" cy="334.25" r="1.15" fill="#ffffff" fill-opacity="0.9"/>
<circle cx="322.27" cy="327.55" r="1.15" fill="#ffffff" fill-opacity="0.9"/>
<circle cx="324.18" cy="323.19" r="1.15" fill="#ffffff" fill-opacity="0.9"/>
<circle cx="327.15" cy="320.69" r="1.15" fill="#ffffff" fill-opacity="0.9"/>
<circle cx="331.93" cy="318.96" r="1.15" fill="#ffffff" fill-opacity="0.9"/>
<circle cx="337.36" cy="316.26" r="1.15" fill="#ffffff" fill-opacity="0.9"/>
<circle cx="341.92" cy="311.93" r="1.15" fill="#ffffff" fill-opacity="0.9"/>
<path d="M344.25,306.90 L344.23,306.31 L344.16,305.72 L344.06,305.14 L343.91,304.56 L343.72,303.99 L343.48,303.43 L343.22,302.88 L342.91,302.35 L342.57,301.82 L342.20,301.31 L341.79,300.82 L341.36,300.34 L340.90,299.88 L340.42,299.44 L339.92,299.02 L339.40,298.61 L338.87,298.23 L338.32,297.86 L337.76,297.51 L337.20,297.18 L336.63,296.87 L336.05,296.58 L335.48,296.30 L334.91,296.03 L334.34,295.78 L333.78,295.55 L333.22,295.32 L332.67,295.11 L332.13,294.91 L331.61,294.71 L331.09,294.53 L330.59,294.35 L330.10,294.17 L329.63,294.00 L329.17,293.83 L328.72,293.66 L328.30,293.49 L327.89,293.32 L327.49,293.14 L327.12,292.96 L326.76,292.77 L326.41,292.57 L326.08,292.37 L325.77,292.15 L325.48,291.92 L325.20,291.68 L324.93,291.42 L324.68,291.15 L324.44,290.86 L324.22,290.55 L324.01,290.22 L323.80,289.87 L323.61,289.50 L323.43,289.11 L323.25,288.69 L323.08,288.25 L322.91,287.78 L322.75,287.29 L322.59,286.78 L322.43,286.25 L322.26,285.69 L322.09,285.11 L321.91,284.51 L321.72,283.89 L321.53,283.25 L321.32,282.60 L321.10,281.93 L320.86,281.25 L320.61,280.57 L320.33,279.89 L320.04,279.20 L319.72,278.51 L319.39,277.83 L319.03,277.16 L318.64,276.51 L318.24,275.87 L317.80,275.26 L317.35,274.67 L316.87,274.11 L316.37,273.59 L315.85,273.10 L315.31,272.66 L314.75,272.26 L314.18,271.90 L313.59,271.60 L312.99,271.35 L312.37,271.15 L311.75,271.00 L311.13,270.92 L310.50,270.89 L309.87,270.92 L309.25,271.00 L308.63,271.15 L308.01,271.35 L307.41,271.60 L306.82,271.90 L306.25,272.26 L305.69,272.66 L305.15,273.10 L304.63,273.59 L304.13,274.11 L303.65,274.67 L303.20,275.26 L302.76,275.87 L302.36,276.51 L301.97,277.16 L301.61,277.83 L301.28,278.51 L300.96,279.20 L300.67,279.89 L300.39,280.57 L300.14,281.25 L299.90,281.93 L299.68,282.60 L299.47,283.25 L299.28,283.89 L299.09,284.51 L298.91,285.11 L298.74,285.69 L298.57,286.25 L298.41,286.78 L298.25,287.29 L298.09,287.78 L297.92,288.25 L297.75,288.69 L297.57,289.11 L297.39,289.50 L297.20,289.87 L296.99,290.22 L296.78,290.55 L296.56,290.86 L296.32,291.15 L296.07,291.42 L295.80,291.68 L295.52,291.92 L295.23,292.15 L294.92,292.37 L294.59,292.57 L294.24,292.77 L293.88,292.96 L293.51,293.14 L293.11,293.32 L292.70,293.49 L292.28,293.66 L291.83,293.83 L291.37,294.00 L290.90,294.17 L290.41,294.35 L289.91,294.53 L289.39,294.71 L288.87,294.91 L288.33,295.11 L287.78,295.32 L287.22,295.55 L286.66,295.78 L286.09,296.03 L285.52,296.30 L284.95,296.58 L284.37,296.87 L283.80,297.18 L283.24,297.51 L282.68,297.86 L282.13,298.23 L281.60,298.61 L281.08,299.02 L280.58,299.44 L280.10,299.88 L279.64,300.34 L279.21,300.82 L278.80,301.31 L278.43,301.82 L278.09,302.35 L277.78,302.88 L277.52,303.43 L277.28,303.99 L277.09,304.56 L276.94,305.14 L276.84,305.72 L276.77,306.31 L276.75,306.90 L276.77,307.49 L276.84,308.08 L276.94,308.66 L277.09,309.24 L277.28,309.81 L277.52,310.37 L277.78,310.92 L278.09,311.45 L278.43,311.98 L278.80,312.49 L279.21,312.98 L279.64,313.46 L280.10,313.92 L280.58,314.36 L281.08,314.78 L281.60,315.19 L282.13,315.57 L282.68,315.94 L283.24,316.29 L283.80,316.62 L284.37,316.93 L284.95,317.22 L285.52,317.50 L286.09,317.77 L286.66,318.02 L287.22,318.25 L287.78,318.48 L288.33,318.69 L288.87,318.89 L289.39,319.08 L289.91,319.27 L290.41,319.45 L290.90,319.63 L291.37,319.80 L291.83,319.97 L292.28,320.14 L292.70,320.31 L293.11,320.48 L293.51,320.66 L293.88,320.84 L294.24,321.03 L294.59,321.23 L294.92,321.43 L295.23,321.65 L295.52,321.88 L295.80,322.12 L296.07,322.38 L296.32,322.65 L296.56,322.94 L296.78,323.25 L296.99,323.58 L297.20,323.93 L297.39,324.30 L297.57,324.69 L297.75,325.11 L297.92,325.55 L298.09,326.02 L298.25,326.51 L298.41,327.02 L298.57,327.55 L298.74,328.11 L298.91,328.69 L299.09,329.29 L299.28,329.91 L299.47,330.55 L299.68,331.20 L299.90,331.87 L300.14,332.55 L300.39,333.23 L300.67,333.91 L300.96,334.60 L301.28,335.29 L301.61,335.97 L301.97,336.64 L302.36,337.29 L302.76,337.93 L303.20,338.54 L303.65,339.13 L304.13,339.69 L304.63,340.21 L305.15,340.70 L305.69,341.14 L306.25,341.54 L306.82,341.90 L307.41,342.20 L308.01,342.45 L308.63,342.65 L309.25,342.80 L309.87,342.88 L310.50,342.91 L311.13,342.88 L311.75,342.80 L312.37,342.65 L312.99,342.45 L313.59,342.20 L314.18,341.90 L314.75,341.54 L315.31,341.14 L315.85,340.70 L316.37,340.21 L316.87,339.69 L317.35,339.13 L317.80,338.54 L318.24,337.93 L318.64,337.29 L319.03,336.64 L319.39,335.97 L319.72,335.29 L320.04,334.60 L320.33,333.91 L320.61,333.23 L320.86,332.55 L321.10,331.87 L321.32,331.20 L321.53,330.55 L321.72,329.91 L321.91,329.29 L322.09,328.69 L322.26,328.11 L322.43,327.55 L322.59,327.02 L322.75,326.51 L322.91,326.02 L323.08,325.55 L323.25,325.11 L323.43,324.69 L323.61,324.30 L323.80,323.93 L324.01,323.58 L324.22,323.25 L324.44,322.94 L324.68,322.65 L324.93,322.38 L325.20,322.12 L325.48,321.88 L325.77,321.65 L326.08,321.43 L326.41,321.23 L326.76,321.03 L327.12,320.84 L327.49,320.66 L327.89,320.48 L328.30,320.31 L328.72,320.14 L329.17,319.97 L329.63,319.80 L330.10,319.63 L330.59,319.45 L331.09,319.27 L331.61,319.08 L332.13,318.89 L332.67,318.69 L333.22,318.48 L333.78,318.25 L334.34,318.02 L334.91,317.77 L335.48,317.50 L336.05,317.22 L336.63,316.93 L337.20,316.62 L337.76,316.29 L338.32,315.94 L338.87,315.57 L339.40,315.19 L339.92,314.78 L340.42,314.36 L340.90,313.92 L341.36,313.46 L341.79,312.98 L342.20,312.49 L342.57,311.98 L342.91,311.45 L343.22,310.92 L343.48,310.37 L343.72,309.81 L343.91,309.24 L344.06,308.66 L344.16,308.08 L344.23,307.49Z" fill="none" stroke="#ff1ef0" stroke-width="1.35"/>
<g stroke="#8c8c8c" stroke-width="0.8" fill="none">
<circle cx="467.8" cy="307.0" r="10.60"/>
<circle cx="467.8" cy="307.0" r="21.20"/>
<circle cx="467.8" cy="307.0" r="31.80"/>
<circle cx="467.8" cy="307.0" r="42.40"/>
<line x1="467.8" y1="307.0" x2="510.20" y2="307.00"/>
<line x1="467.8" y1="307.0" x2="504.52" y2="285.80"/>
<line x1="467.8" y1="307.0" x2="489.00" y2="270.28"/>
<line x1="467.8" y1="307.0" x2="467.80" y2="264.60"/>
<line x1="467.8" y1="307.0" x2="446.60" y2="270.28"/>
<line x1="467.8" y1="307.0" x2="431.08" y2="285.80"/>
<line x1="467.8" y1="307.0" x2="425.40" y2="307.00"/>
<line x1="467.8" y1="307.0" x2="431.08" y2="328.20"/>
<line x1="467.8" y1="307.0" x2="446.60" y2="343.72"/>
<line x1="467.8" y1="307.0" x2="467.80" y2="349.40"/>
<line x1="467.8" y1="307.0" x2="489.00" y2="343.72"/>
<line x1="467.8" y1="307.0" x2="504.52" y2="328.20"/>
<line x1="503.84" y1="297.34" x2="508.76" y2="296.03"/>
<line x1="494.18" y1="280.62" x2="497.78" y2="277.02"/>
<line x1="477.46" y1="270.96" x2="478.77" y2="266.04"/>
<line x1="458.14" y1="270.96" x2="456.83" y2="266.04"/>
<line x1="441.42" y1="280.62" x2="437.82" y2="277.02"/>
<line x1="431.76" y1="297.34" x2="426.84" y2="296.03"/>
<line x1="431.76" y1="316.66" x2="426.84" y2="317.97"/>
<line x1="441.42" y1="333.38" x2="437.82" y2="336.98"/>
<line x1="458.14" y1="343.04" x2="456.83" y2="347.96"/>
<line x1="477.46" y1="343.04" x2="478.77" y2="347.96"/>
<line x1="494.18" y1="333.38" x2="497.78" y2="336.98"/>
<line x1="503.84" y1="316.66" x2="508.76" y2="317.97"/>
</g>
<text x="515.70" y="311.30" font-size="11.7" font-weight="400" text-anchor="middle" fill="#1a1a1a" font-style="normal" >0</text>
<text x="513.50" y="281.80" font-size="11.7" font-weight="400" text-anchor="middle" fill="#1a1a1a" font-style="normal" >30</text>
<text x="496.80" y="266.00" font-size="11.7" font-weight="400" text-anchor="middle" fill="#1a1a1a" font-style="normal" >60</text>
<text x="467.90" y="260.10" font-size="11.7" font-weight="400" text-anchor="middle" fill="#1a1a1a" font-style="normal" >90</text>
<text x="435.55" y="266.00" font-size="11.7" font-weight="400" text-anchor="middle" fill="#1a1a1a" font-style="normal" >120</text>
<text x="419.55" y="281.80" font-size="11.7" font-weight="400" text-anchor="middle" fill="#1a1a1a" font-style="normal" >150</text>
<text x="413.05" y="311.30" font-size="11.7" font-weight="400" text-anchor="middle" fill="#1a1a1a" font-style="normal" >180</text>
<text x="419.15" y="340.70" font-size="11.7" font-weight="400" text-anchor="middle" fill="#1a1a1a" font-style="normal" >210</text>
<text x="435.40" y="356.30" font-size="11.7" font-weight="400" text-anchor="middle" fill="#1a1a1a" font-style="normal" >240</text>
<text x="467.95" y="362.70" font-size="11.7" font-weight="400" text-anchor="middle" fill="#1a1a1a" font-style="normal" >270</text>
<text x="500.45" y="356.30" font-size="11.7" font-weight="400" text-anchor="middle" fill="#1a1a1a" font-style="normal" >300</text>
<text x="516.75" y="340.70" font-size="11.7" font-weight="400" text-anchor="middle" fill="#1a1a1a" font-style="normal" >330</text>
<circle cx="479.89" cy="307.00" r="3.9" fill="#ff0a0a"/>
<circle cx="480.73" cy="304.72" r="3.9" fill="#ff0a0a"/>
<circle cx="481.83" cy="301.89" r="3.9" fill="#ff0a0a"/>
<circle cx="482.95" cy="298.26" r="3.9" fill="#ff0a0a"/>
<circle cx="484.29" cy="293.16" r="3.9" fill="#ff0a0a"/>
<circle cx="484.40" cy="287.22" r="3.9" fill="#ff0a0a"/>
<circle cx="483.03" cy="280.62" r="3.9" fill="#ff0a0a"/>
<circle cx="479.58" cy="274.62" r="3.9" fill="#ff0a0a"/>
<circle cx="474.01" cy="271.76" r="3.9" fill="#ff0a0a"/>
<circle cx="467.80" cy="270.46" r="3.9" fill="#ff0a0a"/>
<circle cx="461.36" cy="270.46" r="3.9" fill="#ff0a0a"/>
<circle cx="456.22" cy="275.18" r="3.9" fill="#ff0a0a"/>
<circle cx="452.49" cy="280.48" r="3.9" fill="#ff0a0a"/>
<circle cx="451.56" cy="287.64" r="3.9" fill="#ff0a0a"/>
<circle cx="451.35" cy="293.20" r="3.9" fill="#ff0a0a"/>
<circle cx="452.32" cy="298.06" r="3.9" fill="#ff0a0a"/>
<circle cx="454.11" cy="302.02" r="3.9" fill="#ff0a0a"/>
<circle cx="454.82" cy="304.71" r="3.9" fill="#ff0a0a"/>
<circle cx="455.27" cy="307.00" r="3.9" fill="#ff0a0a"/>
<circle cx="455.35" cy="309.19" r="3.9" fill="#ff0a0a"/>
<circle cx="454.25" cy="311.93" r="3.9" fill="#ff0a0a"/>
<circle cx="452.45" cy="315.86" r="3.9" fill="#ff0a0a"/>
<circle cx="450.96" cy="321.13" r="3.9" fill="#ff0a0a"/>
<circle cx="451.25" cy="326.72" r="3.9" fill="#ff0a0a"/>
<circle cx="452.89" cy="332.83" r="3.9" fill="#ff0a0a"/>
<circle cx="456.22" cy="338.81" r="3.9" fill="#ff0a0a"/>
<circle cx="461.61" cy="342.13" r="3.9" fill="#ff0a0a"/>
<circle cx="467.80" cy="343.89" r="3.9" fill="#ff0a0a"/>
<circle cx="474.12" cy="342.84" r="3.9" fill="#ff0a0a"/>
<circle cx="479.42" cy="338.92" r="3.9" fill="#ff0a0a"/>
<circle cx="482.73" cy="332.85" r="3.9" fill="#ff0a0a"/>
<circle cx="484.23" cy="326.58" r="3.9" fill="#ff0a0a"/>
<circle cx="484.07" cy="320.65" r="3.9" fill="#ff0a0a"/>
<circle cx="483.09" cy="315.83" r="3.9" fill="#ff0a0a"/>
<circle cx="481.52" cy="312.00" r="3.9" fill="#ff0a0a"/>
<circle cx="480.24" cy="309.19" r="3.9" fill="#ff0a0a"/>
<circle cx="479.39" cy="306.40" r="1.15" fill="#ffffff" fill-opacity="0.9"/>
<circle cx="480.23" cy="304.12" r="1.15" fill="#ffffff" fill-opacity="0.9"/>
<circle cx="481.33" cy="301.29" r="1.15" fill="#ffffff" fill-opacity="0.9"/>
<circle cx="482.45" cy="297.66" r="1.15" fill="#ffffff" fill-opacity="0.9"/>
<circle cx="483.79" cy="292.56" r="1.15" fill="#ffffff" fill-opacity="0.9"/>
<circle cx="483.90" cy="286.62" r="1.15" fill="#ffffff" fill-opacity="0.9"/>
<circle cx="482.53" cy="280.02" r="1.15" fill="#ffffff" fill-opacity="0.9"/>
<circle cx="479.08" cy="274.02" r="1.15" fill="#ffffff" fill-opacity="0.9"/>
<circle cx="473.51" cy="271.16" r="1.15" fill="#ffffff" fill-opacity="0.9"/>
<circle cx="467.30" cy="269.86" r="1.15" fill="#ffffff" fill-opacity="0.9"/>
<circle cx="460.86" cy="269.86" r="1.15" fill="#ffffff" fill-opacity="0.9"/>
<circle cx="455.72" cy="274.58" r="1.15" fill="#ffffff" fill-opacity="0.9"/>
<circle cx="451.99" cy="279.88" r="1.15" fill="#ffffff" fill-opacity="0.9"/>
<circle cx="451.06" cy="287.04" r="1.15" fill="#ffffff" fill-opacity="0.9"/>
<circle cx="450.85" cy="292.60" r="1.15" fill="#ffffff" fill-opacity="0.9"/>
<circle cx="451.82" cy="297.46" r="1.15" fill="#ffffff" fill-opacity="0.9"/>
<circle cx="453.61" cy="301.42" r="1.15" fill="#ffffff" fill-opacity="0.9"/>
<circle cx="454.32" cy="304.11" r="1.15" fill="#ffffff" fill-opacity="0.9"/>
<circle cx="454.77" cy="306.40" r="1.15" fill="#ffffff" fill-opacity="0.9"/>
<circle cx="454.85" cy="308.59" r="1.15" fill="#ffffff" fill-opacity="0.9"/>
<circle cx="453.75" cy="311.33" r="1.15" fill="#ffffff" fill-opacity="0.9"/>
<circle cx="451.95" cy="315.26" r="1.15" fill="#ffffff" fill-opacity="0.9"/>
<circle cx="450.46" cy="320.53" r="1.15" fill="#ffffff" fill-opacity="0.9"/>
<circle cx="450.75" cy="326.12" r="1.15" fill="#ffffff" fill-opacity="0.9"/>
<circle cx="452.39" cy="332.23" r="1.15" fill="#ffffff" fill-opacity="0.9"/>
<circle cx="455.72" cy="338.21" r="1.15" fill="#ffffff" fill-opacity="0.9"/>
<circle cx="461.11" cy="341.53" r="1.15" fill="#ffffff" fill-opacity="0.9"/>
<circle cx="467.30" cy="343.29" r="1.15" fill="#ffffff" fill-opacity="0.9"/>
<circle cx="473.62" cy="342.24" r="1.15" fill="#ffffff" fill-opacity="0.9"/>
<circle cx="478.92" cy="338.32" r="1.15" fill="#ffffff" fill-opacity="0.9"/>
<circle cx="482.23" cy="332.25" r="1.15" fill="#ffffff" fill-opacity="0.9"/>
<circle cx="483.73" cy="325.98" r="1.15" fill="#ffffff" fill-opacity="0.9"/>
<circle cx="483.57" cy="320.05" r="1.15" fill="#ffffff" fill-opacity="0.9"/>
<circle cx="482.59" cy="315.23" r="1.15" fill="#ffffff" fill-opacity="0.9"/>
<circle cx="481.02" cy="311.40" r="1.15" fill="#ffffff" fill-opacity="0.9"/>
<circle cx="479.74" cy="308.59" r="1.15" fill="#ffffff" fill-opacity="0.9"/>
<path d="M479.10,307.00 L479.10,306.80 L479.12,306.60 L479.14,306.41 L479.17,306.20 L479.21,306.00 L479.26,305.80 L479.32,305.59 L479.38,305.37 L479.46,305.15 L479.54,304.93 L479.63,304.70 L479.72,304.47 L479.83,304.22 L479.94,303.97 L480.06,303.72 L480.18,303.45 L480.31,303.18 L480.44,302.89 L480.58,302.60 L480.72,302.30 L480.87,301.98 L481.02,301.66 L481.17,301.33 L481.32,300.98 L481.48,300.62 L481.64,300.25 L481.79,299.87 L481.95,299.48 L482.10,299.07 L482.26,298.65 L482.41,298.22 L482.55,297.78 L482.70,297.33 L482.84,296.86 L482.97,296.38 L483.10,295.89 L483.22,295.38 L483.33,294.87 L483.43,294.34 L483.53,293.80 L483.61,293.26 L483.68,292.70 L483.75,292.13 L483.80,291.55 L483.83,290.97 L483.86,290.37 L483.86,289.77 L483.86,289.17 L483.84,288.55 L483.80,287.93 L483.74,287.31 L483.67,286.69 L483.58,286.06 L483.47,285.43 L483.35,284.80 L483.20,284.17 L483.04,283.54 L482.85,282.91 L482.65,282.29 L482.42,281.67 L482.18,281.06 L481.91,280.46 L481.63,279.86 L481.32,279.28 L481.00,278.70 L480.65,278.13 L480.29,277.58 L479.90,277.04 L479.50,276.52 L479.08,276.01 L478.64,275.52 L478.18,275.05 L477.71,274.59 L477.22,274.16 L476.71,273.75 L476.19,273.36 L475.65,272.99 L475.10,272.65 L474.54,272.33 L473.97,272.03 L473.38,271.77 L472.79,271.52 L472.18,271.31 L471.57,271.12 L470.95,270.96 L470.33,270.83 L469.70,270.73 L469.07,270.66 L468.44,270.61 L467.80,270.60 L467.16,270.61 L466.53,270.66 L465.90,270.73 L465.27,270.83 L464.65,270.96 L464.03,271.12 L463.42,271.31 L462.81,271.52 L462.22,271.77 L461.63,272.03 L461.06,272.33 L460.50,272.65 L459.95,272.99 L459.41,273.36 L458.89,273.75 L458.38,274.16 L457.89,274.59 L457.42,275.05 L456.96,275.52 L456.52,276.01 L456.10,276.52 L455.70,277.04 L455.31,277.58 L454.95,278.13 L454.60,278.70 L454.28,279.28 L453.97,279.86 L453.69,280.46 L453.42,281.06 L453.18,281.67 L452.95,282.29 L452.75,282.91 L452.56,283.54 L452.40,284.17 L452.25,284.80 L452.13,285.43 L452.02,286.06 L451.93,286.69 L451.86,287.31 L451.80,287.93 L451.76,288.55 L451.74,289.17 L451.74,289.77 L451.74,290.37 L451.77,290.97 L451.80,291.55 L451.85,292.13 L451.92,292.70 L451.99,293.26 L452.07,293.80 L452.17,294.34 L452.27,294.87 L452.38,295.38 L452.50,295.89 L452.63,296.38 L452.76,296.86 L452.90,297.33 L453.05,297.78 L453.19,298.22 L453.34,298.65 L453.50,299.07 L453.65,299.48 L453.81,299.87 L453.96,300.25 L454.12,300.62 L454.28,300.98 L454.43,301.33 L454.58,301.66 L454.73,301.98 L454.88,302.30 L455.02,302.60 L455.16,302.89 L455.29,303.18 L455.42,303.45 L455.54,303.72 L455.66,303.97 L455.77,304.22 L455.88,304.47 L455.97,304.70 L456.06,304.93 L456.14,305.15 L456.22,305.37 L456.28,305.59 L456.34,305.80 L456.39,306.00 L456.43,306.20 L456.46,306.41 L456.48,306.60 L456.50,306.80 L456.50,307.00 L456.50,307.20 L456.48,307.40 L456.46,307.59 L456.43,307.80 L456.39,308.00 L456.34,308.20 L456.28,308.41 L456.22,308.63 L456.14,308.85 L456.06,309.07 L455.97,309.30 L455.88,309.53 L455.77,309.78 L455.66,310.03 L455.54,310.28 L455.42,310.55 L455.29,310.82 L455.16,311.11 L455.02,311.40 L454.88,311.70 L454.73,312.02 L454.58,312.34 L454.43,312.67 L454.28,313.02 L454.12,313.38 L453.96,313.75 L453.81,314.13 L453.65,314.52 L453.50,314.93 L453.34,315.35 L453.19,315.78 L453.05,316.22 L452.90,316.67 L452.76,317.14 L452.63,317.62 L452.50,318.11 L452.38,318.62 L452.27,319.13 L452.17,319.66 L452.07,320.20 L451.99,320.74 L451.92,321.30 L451.85,321.87 L451.80,322.45 L451.77,323.03 L451.74,323.63 L451.74,324.23 L451.74,324.83 L451.76,325.45 L451.80,326.07 L451.86,326.69 L451.93,327.31 L452.02,327.94 L452.13,328.57 L452.25,329.20 L452.40,329.83 L452.56,330.46 L452.75,331.09 L452.95,331.71 L453.18,332.33 L453.42,332.94 L453.69,333.54 L453.97,334.14 L454.28,334.72 L454.60,335.30 L454.95,335.87 L455.31,336.42 L455.70,336.96 L456.10,337.48 L456.52,337.99 L456.96,338.48 L457.42,338.95 L457.89,339.41 L458.38,339.84 L458.89,340.25 L459.41,340.64 L459.95,341.01 L460.50,341.35 L461.06,341.67 L461.63,341.97 L462.22,342.23 L462.81,342.48 L463.42,342.69 L464.03,342.88 L464.65,343.04 L465.27,343.17 L465.90,343.27 L466.53,343.34 L467.16,343.39 L467.80,343.40 L468.44,343.39 L469.07,343.34 L469.70,343.27 L470.33,343.17 L470.95,343.04 L471.57,342.88 L472.18,342.69 L472.79,342.48 L473.38,342.23 L473.97,341.97 L474.54,341.67 L475.10,341.35 L475.65,341.01 L476.19,340.64 L476.71,340.25 L477.22,339.84 L477.71,339.41 L478.18,338.95 L478.64,338.48 L479.08,337.99 L479.50,337.48 L479.90,336.96 L480.29,336.42 L480.65,335.87 L481.00,335.30 L481.32,334.72 L481.63,334.14 L481.91,333.54 L482.18,332.94 L482.42,332.33 L482.65,331.71 L482.85,331.09 L483.04,330.46 L483.20,329.83 L483.35,329.20 L483.47,328.57 L483.58,327.94 L483.67,327.31 L483.74,326.69 L483.80,326.07 L483.84,325.45 L483.86,324.83 L483.86,324.23 L483.86,323.63 L483.83,323.03 L483.80,322.45 L483.75,321.87 L483.68,321.30 L483.61,320.74 L483.53,320.20 L483.43,319.66 L483.33,319.13 L483.22,318.62 L483.10,318.11 L482.97,317.62 L482.84,317.14 L482.70,316.67 L482.55,316.22 L482.41,315.78 L482.26,315.35 L482.10,314.93 L481.95,314.52 L481.79,314.13 L481.64,313.75 L481.48,313.38 L481.32,313.02 L481.17,312.67 L481.02,312.34 L480.87,312.02 L480.72,311.70 L480.58,311.40 L480.44,311.11 L480.31,310.82 L480.18,310.55 L480.06,310.28 L479.94,310.03 L479.83,309.78 L479.72,309.53 L479.63,309.30 L479.54,309.07 L479.46,308.85 L479.38,308.63 L479.32,308.41 L479.26,308.20 L479.21,308.00 L479.17,307.80 L479.14,307.59 L479.12,307.40 L479.10,307.20Z" fill="none" stroke="#8614f0" stroke-width="1.35"/>
<line x1="177.60" y1="306.90" x2="177.60" y2="275.70" stroke="#ff55c8" stroke-width="1.8" stroke-opacity="1.0"/><path d="M177.60,270.60 L180.85,279.10 L177.60,276.98 L174.35,279.10Z" fill="#ff55c8" fill-opacity="1.0"/>
<line x1="310.50" y1="306.90" x2="310.50" y2="275.10" stroke="#ff55c8" stroke-width="1.8" stroke-opacity="1.0"/><path d="M310.50,270.00 L313.75,278.50 L310.50,276.38 L307.25,278.50Z" fill="#ff55c8" fill-opacity="1.0"/>
<line x1="467.80" y1="307.00" x2="467.80" y2="275.80" stroke="#ff55c8" stroke-width="1.8" stroke-opacity="1.0"/><path d="M467.80,270.70 L471.05,279.20 L467.80,277.07 L464.55,279.20Z" fill="#ff55c8" fill-opacity="1.0"/>
<line x1="177.60" y1="306.90" x2="191.60" y2="306.90" stroke="#138a13" stroke-width="1.9" stroke-opacity="1.0"/><path d="M197.00,306.90 L188.00,309.90 L190.25,306.90 L188.00,303.90Z" fill="#138a13" fill-opacity="1.0"/>
<line x1="310.50" y1="306.90" x2="339.60" y2="306.90" stroke="#138a13" stroke-width="1.9" stroke-opacity="1.0"/><path d="M345.00,306.90 L336.00,309.90 L338.25,306.90 L336.00,303.90Z" fill="#138a13" fill-opacity="1.0"/>
<line x1="467.80" y1="307.00" x2="475.20" y2="307.00" stroke="#138a13" stroke-width="1.9" stroke-opacity="1.0"/><path d="M480.00,307.00 L472.00,310.00 L474.00,307.00 L472.00,304.00Z" fill="#138a13" fill-opacity="1.0"/>
<text x="0" y="0" font-size="12.2" font-weight="400" text-anchor="middle" fill="#ff60d0" font-style="normal" transform="translate(172.6,289.6) rotate(-90)">ZZ</text>
<text x="184.3" y="320.5" font-size="12" font-weight="400" text-anchor="middle" fill="#138a13" font-style="normal" >AC</text>
<text x="0" y="0" font-size="12.2" font-weight="400" text-anchor="middle" fill="#ff55c8" font-style="italic" transform="translate(465.0,289.8) rotate(-90)">b</text>
<text x="473.5" y="321" font-size="11.5" font-weight="400" text-anchor="middle" fill="#138a13" font-style="italic" >a</text>
<text x="151.2" y="231.2" font-size="12.3" fill="#1a1a1a">BP, <tspan font-style="italic">d</tspan><tspan font-size="8.8" dy="3">BP</tspan><tspan dy="-3"> = 166 nm, </tspan><tspan font-style="italic">d</tspan><tspan font-size="8.8" dy="3">SiO</tspan><tspan font-size="6.5" dy="2">2</tspan><tspan dy="-5"> = 225 nm</tspan></text>
<text x="393" y="231.2" font-size="12.3" fill="#1a1a1a">4L T<tspan font-style="italic" font-size="8.8" dy="3">d</tspan><tspan dy="-3">-WTe</tspan><tspan font-size="8.8" dy="3">2</tspan><tspan dy="-3">, </tspan><tspan font-style="italic">d</tspan><tspan font-size="8.8" dy="3">SiO</tspan><tspan font-size="6.5" dy="2">2</tspan><tspan dy="-5"> = 768 nm</tspan></text>
<text x="164.2" y="383.2" font-size="11.5" fill="#1a1a1a"><tspan font-style="italic">A</tspan><tspan font-size="8.2" dx="0.5" dy="-4.8">1</tspan><tspan font-size="8.2" dx="-4.8" dy="9">g</tspan></text>
<text x="164.2" y="402.5" font-size="11.5" fill="#1a1a1a"><tspan font-style="italic">A</tspan><tspan font-size="8.2" dx="0.5" dy="-4.8">2</tspan><tspan font-size="8.2" dx="-4.8" dy="9">g</tspan></text>
<circle cx="190.7" cy="378.5" r="4" fill="url(#ballR)"/>
<circle cx="190.7" cy="397.8" r="4" fill="url(#ballB)"/>
<text x="202" y="393.3" font-size="11.5" font-weight="400" text-anchor="start" fill="#1a1a1a" font-style="normal" >Exp.</text>
<text x="250.1" y="383.2" font-size="11.5" fill="#1a1a1a"><tspan font-style="italic">A</tspan><tspan font-size="8.2" dx="0.5" dy="-4.8">1</tspan><tspan font-size="8.2" dx="-4.8" dy="9">g</tspan></text>
<text x="250.1" y="402.5" font-size="11.5" fill="#1a1a1a"><tspan font-style="italic">A</tspan><tspan font-size="8.2" dx="0.5" dy="-4.8">2</tspan><tspan font-size="8.2" dx="-4.8" dy="9">g</tspan></text>
<line x1="269.7" y1="378.5" x2="284.5" y2="378.5" stroke="#ff33f0" stroke-width="1.6"/>
<line x1="269.7" y1="398" x2="284.5" y2="398" stroke="#8a2be8" stroke-width="1.6"/>
<text x="290.6" y="393.3" font-size="11.5" font-weight="400" text-anchor="start" fill="#1a1a1a" font-style="normal" >Pred.</text>
<text x="392" y="391.9" font-size="11.5" fill="#1a1a1a"><tspan font-style="italic">A</tspan><tspan font-size="8.2" dy="3.3">1</tspan></text>
<circle cx="418.5" cy="387.6" r="3.9" fill="url(#ballR)"/>
<text x="433.4" y="391.9" font-size="11.5" font-weight="400" text-anchor="start" fill="#1a1a1a" font-style="normal" >Exp.</text>
<text x="474.5" y="391.9" font-size="11.5" fill="#1a1a1a"><tspan font-style="italic">A</tspan><tspan font-size="8.2" dy="3.3">1</tspan></text>
<line x1="493.6" y1="387.7" x2="508.8" y2="387.7" stroke="#8a2be8" stroke-width="1.6"/>
<text x="515.9" y="391.9" font-size="11.5" font-weight="400" text-anchor="start" fill="#1a1a1a" font-style="normal" >Pred.</text>
</svg></body></html>
